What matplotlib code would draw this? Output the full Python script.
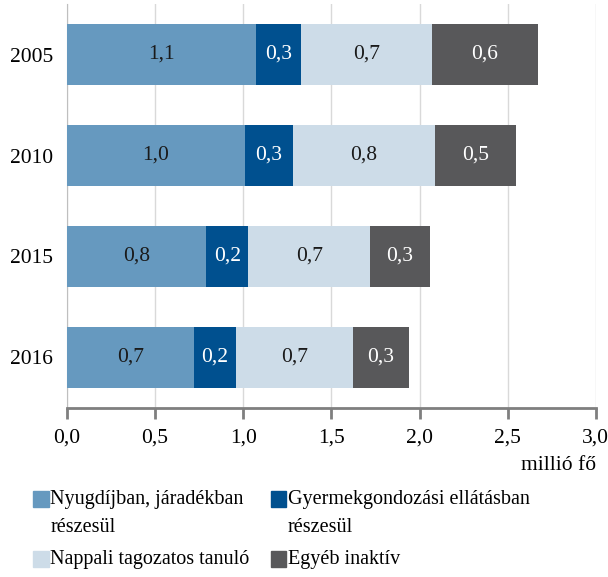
import numpy as np
import matplotlib
matplotlib.use("Agg")
import matplotlib.pyplot as plt
from matplotlib.patches import Rectangle

# adatok (millió fő)
evek = ["2005", "2010", "2015", "2016"]
nyugdij = [1.07, 1.01, 0.79, 0.72]
gyes = [0.26, 0.27, 0.24, 0.24]
tanulo = [0.74, 0.81, 0.69, 0.66]
egyeb = [0.60, 0.46, 0.34, 0.32]
sorozat_nevek = ["Nyugdíjban, járadékban\nrészesül",
                 "Gyermekgondozási ellátásban\nrészesül",
                 "Nappali tagozatos tanuló",
                 "Egyéb inaktív"]
x_ticks = [0.0, 0.5, 1.0, 1.5, 2.0, 2.5, 3.0]

szinek = ["#6699BF", "#00508F", "#CDDCE8", "#58585A"]
felirat_szin = ["#1a1a1a", "white", "#1a1a1a", "white"]

plt.rcParams['font.family'] = ['Liberation Serif', 'DejaVu Serif']
FS = 15.5

fig = plt.figure(figsize=(6.08, 5.77), dpi=100)
ax = fig.add_axes([0.110, 0.293, 0.870, 0.700])

y = np.arange(len(evek))
bal = np.zeros(len(evek))
for ertekek, szin, fsz in zip([nyugdij, gyes, tanulo, egyeb], szinek, felirat_szin):
    ertekek = np.array(ertekek)
    ax.barh(y, ertekek, left=bal, height=0.61, color=szin, zorder=3)
    for yi, b, v in zip(y, bal, ertekek):
        ax.text(b + v / 2, yi, f"{v:.1f}".replace(".", ","), ha="center", va="center",
                color=fsz, fontsize=FS, zorder=4)
    bal = bal + ertekek

ax.set_xlim(0, 3.0)
ax.set_ylim(len(evek) - 0.5, -0.5)
ax.set_yticks(y)
ax.set_yticklabels(evek, fontsize=FS)
ax.set_xticks(x_ticks)
ax.set_xticklabels([f"{t:.1f}".replace(".", ",") for t in x_ticks], fontsize=FS)
ax.tick_params(axis="y", length=0, pad=10)
ax.tick_params(axis="x", direction="out", length=8, width=2, color="#7f7f7f", pad=7)
ax.grid(axis="x", color="#d9d9d9", linewidth=1, zorder=0)
for s in ["top", "right"]:
    ax.spines[s].set_visible(False)
ax.spines["left"].set_color("#bfbfbf")
ax.spines["bottom"].set_color("#7f7f7f")
ax.spines["bottom"].set_linewidth(2)

fig.text(0.980, 0.194, "millió fő", ha="right", va="center", fontsize=FS)

# jelmagyarázat
poz = [(0.055, 0.135), (0.445, 0.135), (0.055, 0.031), (0.445, 0.031)]
for (lx, ly), szin, nev in zip(poz, szinek, sorozat_nevek):
    fig.patches.append(Rectangle((lx, ly - 0.013), 0.025, 0.027, transform=fig.transFigure,
                                 color=szin))
    fig.text(lx + 0.028, ly + 0.016, nev, ha="left", va="top", fontsize=14.5, linespacing=1.65)

fig.savefig("out.png", dpi=100)
